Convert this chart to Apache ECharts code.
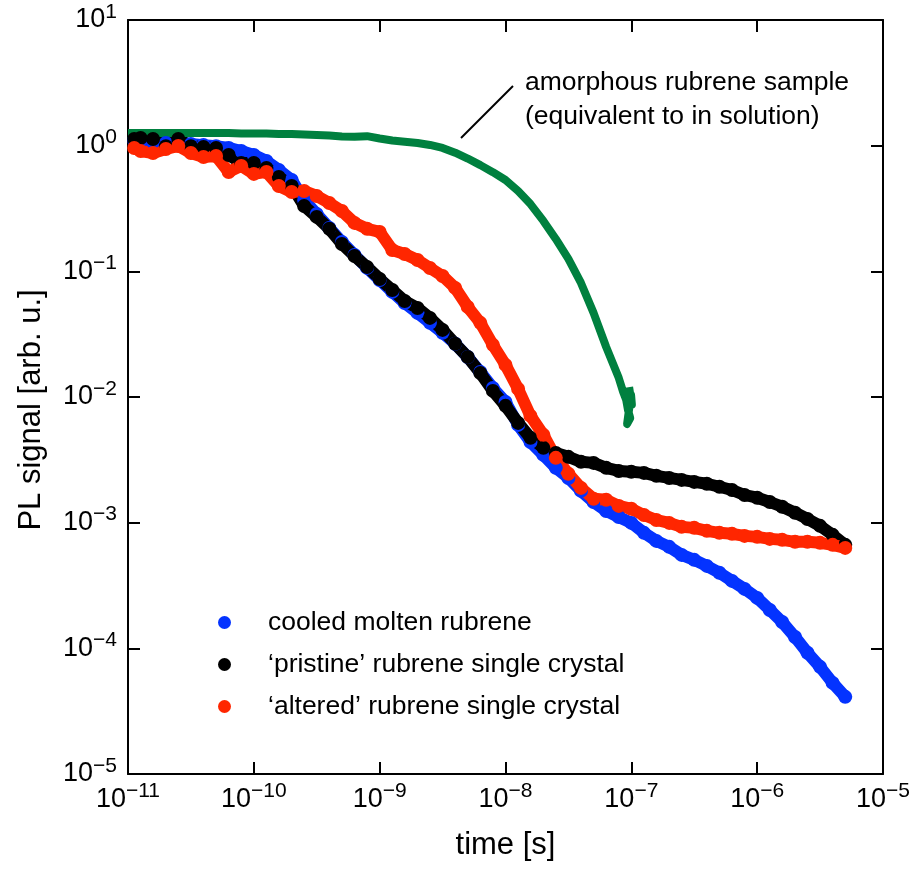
<!DOCTYPE html>
<html>
<head>
<meta charset="utf-8">
<script src="https://cdn.jsdelivr.net/npm/echarts@6/dist/echarts.min.js"></script>
<style>
html,body{margin:0;padding:0;background:#fff;}
#chart{width:917px;height:869px;}
</style>
</head>
<body>
<div id="chart"></div>
<script>
// ---- data ----
const time = [
  1.12e-11, 1.26e-11, 1.58e-11, 2.0e-11, 2.51e-11, 3.16e-11, 3.98e-11, 5.01e-11, 6.31e-11, 7.94e-11,
  1.0e-10, 1.26e-10, 1.58e-10, 2.0e-10, 2.51e-10, 3.16e-10, 3.98e-10, 5.01e-10, 6.31e-10, 7.94e-10,
  1.0e-9, 1.26e-9, 1.58e-9, 2.0e-9, 2.51e-9, 3.16e-9, 3.98e-9, 5.01e-9, 6.31e-9, 7.94e-9,
  1.0e-8, 1.26e-8, 1.58e-8, 2.0e-8, 2.51e-8, 3.16e-8, 3.98e-8, 5.01e-8, 6.31e-8, 7.94e-8,
  1.0e-7, 1.26e-7, 1.58e-7, 2.0e-7, 2.51e-7, 3.16e-7, 3.98e-7, 5.01e-7, 6.31e-7, 7.94e-7,
  1.0e-6, 1.26e-6, 1.58e-6, 2.0e-6, 2.51e-6, 3.16e-6, 3.98e-6, 5.01e-6
];
const cooledMolten = [
  1.11, 1.09, 1.07, 1.05, 1.05, 1.03, 1.01, 0.99, 0.959, 0.907,
  0.843, 0.755, 0.641, 0.533, 0.370, 0.286, 0.221, 0.171, 0.135, 0.1065,
  0.0854, 0.0686, 0.0560, 0.0467, 0.0389, 0.0324, 0.0265, 0.0208, 0.0158, 0.0118,
  0.00914, 0.0060, 0.00439, 0.00346, 0.00273, 0.00227, 0.00179, 0.00146, 0.00124, 0.00111,
  0.000996, 0.000830, 0.000716, 0.000642, 0.000554, 0.000506, 0.000453, 0.000399, 0.000344, 0.000297,
  0.000252, 0.000202, 0.000162, 0.000123, 0.0000921, 0.0000712, 0.0000531, 0.0000411
];
const pristine = [
  1.13, 1.15, 1.13, 0.99, 1.13, 0.99, 0.977, 0.959, 0.843, 0.728,
  0.728, 0.665, 0.564, 0.478, 0.331, 0.271, 0.218, 0.165, 0.1326, 0.1084,
  0.0870, 0.0711, 0.0581, 0.0511, 0.0426, 0.0342, 0.0265, 0.0208, 0.0155, 0.01118,
  0.00850, 0.00622, 0.00473, 0.00394, 0.00359, 0.00334, 0.00305, 0.00299, 0.00273, 0.00258,
  0.00254, 0.00249, 0.00236, 0.00227, 0.00219, 0.00211, 0.00204, 0.00193, 0.00182, 0.00166,
  0.00158, 0.00146, 0.00134, 0.00120, 0.00107, 0.000943, 0.000800, 0.000666
];
const altered = [
  0.959, 0.907, 0.875, 0.941, 0.995, 0.875, 0.813, 0.828, 0.618, 0.690,
  0.596, 0.618, 0.478, 0.428, 0.436, 0.398, 0.350, 0.302, 0.243, 0.218,
  0.206, 0.148, 0.1375, 0.1232, 0.1064, 0.0919, 0.0738, 0.0521, 0.0389, 0.0260,
  0.0180, 0.0116, 0.00707, 0.00500, 0.00328, 0.00245, 0.00189, 0.00155, 0.00152, 0.00136,
  0.00129, 0.00115, 0.00105, 0.000996, 0.000926, 0.000909, 0.000861, 0.000830, 0.000815, 0.000785,
  0.000771, 0.000743, 0.000730, 0.000704, 0.000704, 0.000691, 0.000666, 0.000630
];
const amorphousTime = [
  1.0e-11, 1.26e-11, 1.58e-11, 2.0e-11, 2.51e-11, 3.16e-11, 3.98e-11, 5.01e-11, 6.31e-11, 7.94e-11,
  1.0e-10, 1.26e-10, 1.58e-10, 2.0e-10, 2.51e-10, 3.16e-10, 3.98e-10, 5.01e-10, 6.31e-10, 7.94e-10,
  1.0e-9, 1.26e-9, 1.58e-9, 2.0e-9, 2.51e-9, 3.16e-9, 3.98e-9, 5.01e-9, 6.31e-9, 7.94e-9,
  1.0e-8, 1.26e-8, 1.58e-8, 2.0e-8, 2.51e-8, 3.16e-8, 3.98e-8, 5.01e-8, 6.31e-8, 7.94e-8,
  8.6e-8, 9.1e-8, 9.4e-8, 9.8e-8, 9.25e-8, 9.95e-8, 1.01e-7, 9.6e-8
];
const amorphous = [
  1.262, 1.262, 1.262, 1.262, 1.262, 1.262, 1.262, 1.262, 1.262, 1.25,
  1.25, 1.25, 1.239, 1.239, 1.226, 1.216, 1.205, 1.185, 1.175, 1.19,
  1.14, 1.10, 1.075, 1.05, 1.013, 0.96, 0.88, 0.79, 0.70, 0.615,
  0.533, 0.436, 0.343, 0.252, 0.181, 0.1255, 0.0808, 0.0467, 0.0250, 0.0142,
  0.0110, 0.0095, 0.0079, 0.0068, 0.0061, 0.0104, 0.0087, 0.0120
];
const seriesNames = ['cooled molten rubrene', '\u2018pristine\u2019 rubrene single crystal', '\u2018altered\u2019 rubrene single crystal', 'amorphous rubrene sample'];
const annotationText = 'amorphous rubrene sample\n(equivalent to in solution)';

// ---- chart ----
const FONT = '"Liberation Sans", Arial, Helvetica, sans-serif';
const zip = (xs, ys) => xs.map((x, i) => [x, ys[i]]);

function powLabel(v) {
  const e = Math.round(Math.log10(v));
  const s = e < 0 ? '\u2212' + Math.abs(e) : String(e);
  return '{b|10}{s|' + s + '}';
}
const richLabel = {
  b: { fontSize: 27, lineHeight: 27, fontFamily: FONT, color: '#000', verticalAlign: 'bottom' },
  s: { fontSize: 21, lineHeight: 21, fontFamily: FONT, color: '#000', verticalAlign: 'bottom', padding: [0, 0, 11, 0] }
};
const axisCommon = {
  type: 'log', logBase: 10, splitNumber: 6,
  axisLine: { show: true, lineStyle: { color: '#000', width: 2 } },
  axisTick: { show: true, inside: true, length: 12, lineStyle: { color: '#000', width: 2 } },
  minorTick: { show: false },
  splitLine: { show: false }
};

const chart = echarts.init(document.getElementById('chart'), null, { renderer: 'canvas' });

function dotSeries(name, data, color) {
  return {
    name, type: 'line', data,
    xAxisIndex: 0, yAxisIndex: 0,
    symbol: 'circle', symbolSize: 14, showSymbol: true, showAllSymbol: true,
    itemStyle: { color },
    lineStyle: { color, width: 12, cap: 'round', join: 'round' },
    emphasis: { disabled: true },
    silent: true
  };
}

chart.setOption({
  animation: false,
  backgroundColor: '#fff',
  grid: { left: 128, right: 34, top: 20, bottom: 95 },
  xAxis: [
    Object.assign({}, axisCommon, {
      min: 1e-11, max: 1e-5, position: 'bottom',
      axisLabel: { margin: 12, formatter: powLabel, rich: richLabel },
      name: 'time [s]', nameLocation: 'middle', nameGap: 56,
      nameTextStyle: { fontSize: 31, fontFamily: FONT, color: '#000' }
    }),
    Object.assign({}, axisCommon, {
      min: 1e-11, max: 1e-5, position: 'top', axisLabel: { show: false }
    })
  ],
  yAxis: [
    Object.assign({}, axisCommon, {
      min: 1e-5, max: 10, position: 'left',
      axisLabel: { margin: 11, formatter: powLabel, rich: richLabel }
    }),
    Object.assign({}, axisCommon, {
      min: 1e-5, max: 10, position: 'right', axisLabel: { show: false }
    })
  ],
  legend: {
    data: seriesNames.slice(0, 3).map(n => ({ name: n, icon: 'circle' })),
    orient: 'vertical', left: 213, top: 604,
    itemWidth: 13, itemHeight: 13, itemGap: 15,
    selectedMode: false,
    textStyle: { fontSize: 26.5, fontFamily: FONT, color: '#000', padding: [0, 0, 0, 32] }
  },
  graphic: [
    {
      type: 'text', x: 31, y: 410, rotation: Math.PI / 2,
      style: { text: 'PL signal [arb. u.]', fontSize: 31, fontFamily: FONT, fill: '#000', align: 'center', verticalAlign: 'middle' }
    },
    {
      type: 'text', x: 525, y: 100,
      style: { text: annotationText, fontSize: 26.5, lineHeight: 34, fontFamily: FONT, fill: '#000', align: 'left', verticalAlign: 'middle' }
    },
    {
      type: 'line', shape: { x1: 461, y1: 138, x2: 513, y2: 86 },
      style: { stroke: '#000', lineWidth: 2 }
    }
  ],
  series: [
    dotSeries(seriesNames[0], zip(time, cooledMolten), '#0433ff'),
    dotSeries(seriesNames[1], zip(time, pristine), '#000000'),
    dotSeries(seriesNames[2], zip(time, altered), '#ff2600'),
    {
      name: seriesNames[3], type: 'line', data: zip(amorphousTime, amorphous),
      symbol: 'none', lineStyle: { color: '#00803f', width: 8, join: 'round', cap: 'butt' },
      itemStyle: { color: '#00803f' }, emphasis: { disabled: true }, silent: true
    }
  ]
});
</script>
</body>
</html>
